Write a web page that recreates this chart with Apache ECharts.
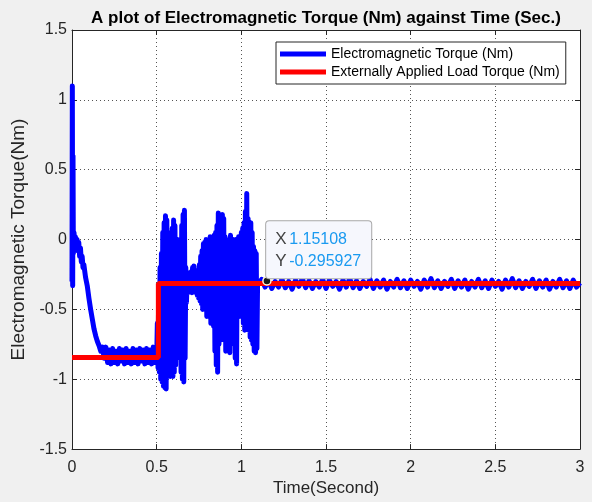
<!DOCTYPE html>
<html>
<head>
<meta charset="utf-8">
<script src="https://cdn.jsdelivr.net/npm/echarts@6/dist/echarts.min.js"></script>
<style>
html,body{margin:0;padding:0;background:#f0f0f0;}
#main{width:592px;height:502px;}
</style>
</head>
<body>
<div id="main"></div>
<script>
// electromagnetic torque [time, Nm]
var emStartup = [
    [0,-0.30],[0.002,1.10],[0.004,-0.33],[0.006,0.60],[0.008,-0.10],[0.012,0.05],[0.016,-0.05],
    [0.02,0.02],[0.025,-0.04],[0.03,0.00],[0.035,-0.08],[0.04,-0.02],[0.045,-0.12],[0.05,-0.06],
    [0.055,-0.16],[0.06,-0.12],[0.065,-0.20],[0.07,-0.18],[0.08,-0.27],[0.09,-0.33],[0.10,-0.42],
    [0.11,-0.50],[0.12,-0.57],[0.13,-0.64],[0.14,-0.69],[0.15,-0.73],[0.16,-0.76],[0.17,-0.80],
    [0.18,-0.77],[0.19,-0.85]
];
var emSettle = [
    [0.20,-0.77],[0.21,-0.88],[0.22,-0.79],[0.23,-0.89],[0.24,-0.78],[0.25,-0.88],[0.26,-0.80],
    [0.27,-0.89],[0.28,-0.78],[0.29,-0.87],[0.30,-0.79],[0.31,-0.89],[0.32,-0.78],[0.33,-0.88],
    [0.34,-0.80],[0.35,-0.89],[0.36,-0.78],[0.37,-0.88],[0.38,-0.79],[0.39,-0.89],[0.40,-0.78],
    [0.41,-0.87],[0.42,-0.79],[0.43,-0.89],[0.44,-0.78],[0.45,-0.88],[0.46,-0.79],[0.47,-0.89],
    [0.48,-0.77],[0.49,-0.88]
];
var emTransient = [
    [0.500,-0.86],[0.504,-0.60],[0.508,-0.92],[0.512,-0.35],[0.516,-0.95],[0.520,-0.20],
    [0.524,-1.00],[0.528,-0.10],[0.532,-1.02],[0.536,0.05],[0.540,-1.05],[0.544,0.12],
    [0.548,-1.06],[0.552,0.17],[0.556,-1.07],[0.560,0.14],[0.564,-0.95],[0.568,0.05],
    [0.572,-0.92],[0.576,-0.10],[0.580,-0.98],[0.584,0.00],[0.588,-0.97],[0.592,0.08],
    [0.596,-0.98],[0.600,0.14],[0.604,-0.95],[0.608,0.10],[0.612,-0.90],[0.616,-0.05],
    [0.620,-0.80],[0.624,0.00],[0.628,-0.75],[0.632,-0.05],[0.636,-0.85],[0.640,-0.10],
    [0.644,-0.95],[0.648,0.10],[0.652,-1.00],[0.656,0.18],[0.660,-1.02],[0.664,0.21],
    [0.668,-0.85],[0.672,-0.20],[0.676,-0.45],[0.680,-0.25],[0.684,-0.38],[0.688,-0.24],
    [0.692,-0.37],[0.696,-0.26],[0.700,-0.36],[0.704,-0.23],[0.708,-0.38],[0.712,-0.20],
    [0.716,-0.37],[0.720,-0.19],[0.724,-0.36],[0.728,-0.22],[0.732,-0.38],[0.736,-0.25],
    [0.740,-0.40],[0.744,-0.22],[0.748,-0.42],[0.752,-0.18],[0.756,-0.44],[0.760,-0.12],
    [0.764,-0.46],[0.768,-0.08],[0.772,-0.50],[0.776,-0.03],[0.780,-0.48],[0.784,-0.02],
    [0.788,-0.45],[0.792,0.00],[0.796,-0.55],[0.800,-0.02],[0.804,-0.50],[0.808,0.00],
    [0.812,-0.52],[0.816,0.02],[0.820,-0.60],[0.824,-0.01],[0.828,-0.55],[0.832,0.02],
    [0.836,-0.62],[0.840,0.03],[0.844,-0.80],[0.848,0.05],[0.852,-0.90],[0.856,0.10],
    [0.860,-0.95],[0.864,0.19],[0.868,-0.75],[0.872,0.12],[0.876,-0.72],[0.880,0.10],
    [0.884,-0.65],[0.888,0.18],[0.892,-0.70],[0.896,0.15],[0.900,-0.72],[0.904,0.02],
    [0.908,-0.80],[0.912,0.00],[0.916,-0.70],[0.920,-0.02],[0.924,-0.60],[0.928,-0.02],
    [0.932,-0.81],[0.936,0.03],[0.940,-0.62],[0.944,0.00],[0.948,-0.55],[0.952,0.00],
    [0.956,-0.75],[0.960,-0.03],[0.964,-0.85],[0.968,0.00],[0.972,-0.89],[0.976,0.00],
    [0.980,-0.50],[0.984,0.02],[0.988,-0.55],[0.992,0.02],[0.996,-0.52],[1.000,0.05],
    [1.004,-0.50],[1.008,0.08],[1.012,-0.60],[1.016,0.12],[1.020,-0.65],[1.024,0.20],
    [1.028,-0.55],[1.032,0.33],[1.036,-0.60],[1.040,0.15],[1.044,-0.65],[1.048,0.10],
    [1.052,-0.70],[1.056,0.12],[1.060,-0.72],[1.064,0.05],[1.068,-0.75],[1.072,-0.05],
    [1.076,-0.80],[1.080,-0.08],[1.084,-0.81],[1.088,-0.10],[1.092,-0.78],[1.096,-0.30]
];
var emSteady = [
    [1.10,-0.32],[1.12,-0.285],[1.14,-0.34],[1.16,-0.295],[1.18,-0.35],[1.20,-0.30],[1.22,-0.34],
    [1.24,-0.285],[1.26,-0.345],[1.28,-0.30],[1.30,-0.355],[1.32,-0.29],[1.34,-0.335],[1.36,-0.28],
    [1.38,-0.345],[1.40,-0.295],[1.42,-0.35],[1.44,-0.30],[1.46,-0.34],[1.48,-0.285],[1.50,-0.35],
    [1.52,-0.29],[1.54,-0.335],[1.56,-0.30],[1.58,-0.355],[1.60,-0.29],[1.62,-0.34],[1.64,-0.28],
    [1.66,-0.345],[1.68,-0.295],[1.70,-0.35],[1.72,-0.30],[1.74,-0.335],[1.76,-0.285],[1.78,-0.35],
    [1.80,-0.295],[1.82,-0.34],[1.84,-0.29],[1.86,-0.355],[1.88,-0.30],[1.90,-0.34],[1.92,-0.285],
    [1.94,-0.345],[1.96,-0.295],[1.98,-0.35],[2.00,-0.29],[2.02,-0.335],[2.04,-0.30],[2.06,-0.355],
    [2.08,-0.29],[2.10,-0.34],[2.12,-0.28],[2.14,-0.345],[2.16,-0.295],[2.18,-0.35],[2.20,-0.30],
    [2.22,-0.335],[2.24,-0.285],[2.26,-0.35],[2.28,-0.295],[2.30,-0.34],[2.32,-0.29],[2.34,-0.355],
    [2.36,-0.30],[2.38,-0.34],[2.40,-0.285],[2.42,-0.345],[2.44,-0.295],[2.46,-0.35],[2.48,-0.29],
    [2.50,-0.335],[2.52,-0.30],[2.54,-0.355],[2.56,-0.29],[2.58,-0.34],[2.60,-0.28],[2.62,-0.345],
    [2.64,-0.295],[2.66,-0.35],[2.68,-0.30],[2.70,-0.335],[2.72,-0.285],[2.74,-0.35],[2.76,-0.295],
    [2.78,-0.34],[2.80,-0.29],[2.82,-0.355],[2.84,-0.30],[2.86,-0.34],[2.88,-0.285],[2.90,-0.345],
    [2.92,-0.295],[2.94,-0.35],[2.96,-0.29],[2.98,-0.34],[3.00,-0.31]
];
var emTorque = emStartup.concat(emSettle, emTransient, emSteady);

// externally applied load torque (step at ~0.51 s)
var loadTorque = [[0,-0.845],[0.51,-0.845],[0.51,-0.315],[3,-0.315]];

// data tip
var dataTip = [[1.15108, -0.295927]];

var font = 'Liberation Sans, Arial, Helvetica, sans-serif';
var txtColor = '#262626';

myChart = echarts.init(document.getElementById('main'));
option = {
    animation: false,
    backgroundColor: '#f0f0f0',
    textStyle: {fontFamily: font},
    title: {
        text: 'A plot of Electromagnetic Torque (Nm) against Time (Sec.)',
        left: 321,
        textAlign: 'center',
        top: 5,
        textStyle: {
            fontFamily: font,
            fontSize: 17,
            fontWeight: 'bold',
            color: '#000'
        }
    },
    legend: {
        orient: 'vertical',
        left: 276,
        top: 42,
        data: ['Electromagnetic Torque (Nm)', 'Externally Applied Load Torque (Nm)'],
        icon: 'rect',
        itemWidth: 46,
        itemHeight: 5,
        itemGap: 4,
        padding: [5, 6, 5, 4],
        backgroundColor: '#fff',
        borderColor: '#262626',
        borderWidth: 1,
        borderRadius: 0,
        textStyle: {fontSize: 14, color: '#000'}
    },
    grid: {
        left: 72,
        right: 12,
        top: 30,
        bottom: 52,
        show: true,
        backgroundColor: '#fff',
        borderWidth: 0
    },
    xAxis: [
        {
            type: 'value',
            min: 0, max: 3, interval: 0.5,
            name: 'Time(Second)',
            nameLocation: 'middle',
            nameGap: 30,
            nameTextStyle: {fontSize: 17, color: txtColor},
            axisLine: {onZero: false, lineStyle: {color: txtColor}},
            axisTick: {inside: true, length: 5, lineStyle: {color: txtColor}},
            axisLabel: {fontSize: 16, color: txtColor, margin: 10},
            splitLine: {lineStyle: {color: '#555', type: [1, 3]}}
        },
        {
            type: 'value', position: 'top',
            min: 0, max: 3, interval: 0.5,
            axisLine: {show: true, onZero: false, lineStyle: {color: txtColor}},
            axisTick: {show: true, inside: true, length: 5, lineStyle: {color: txtColor}},
            axisLabel: {show: false},
            splitLine: {show: false}
        }
    ],
    yAxis: [
        {
            type: 'value',
            min: -1.5, max: 1.5, interval: 0.5,
            name: 'Electromagnetic Torque(Nm)',
            nameLocation: 'middle',
            nameGap: 31,
            nameTextStyle: {fontSize: 19, color: txtColor},
            axisLine: {show: true, onZero: false, lineStyle: {color: txtColor}},
            axisTick: {show: true, inside: true, length: 5, lineStyle: {color: txtColor}},
            axisLabel: {fontSize: 16, color: txtColor, margin: 5},
            splitLine: {lineStyle: {color: '#555', type: [1, 3]}}
        },
        {
            type: 'value', position: 'right',
            min: -1.5, max: 1.5, interval: 0.5,
            axisLine: {show: true, onZero: false, lineStyle: {color: txtColor}},
            axisTick: {show: true, inside: true, length: 5, lineStyle: {color: txtColor}},
            axisLabel: {show: false},
            splitLine: {show: false}
        }
    ],
    series: [
        {
            name: 'Electromagnetic Torque (Nm)',
            type: 'line',
            data: emTorque,
            showSymbol: false,
            color: '#0000ff',
            lineStyle: {width: 5, color: '#0000ff', join: 'round'}
        },
        {
            name: 'Externally Applied Load Torque (Nm)',
            type: 'line',
            data: loadTorque,
            showSymbol: false,
            color: '#ff0000',
            lineStyle: {width: 5, color: '#ff0000'}
        },
        {
            name: 'datatip',
            type: 'scatter',
            data: dataTip,
            symbolSize: 8,
            z: 5,
            itemStyle: {color: '#1a1a1a', borderColor: '#fff8dc', borderWidth: 1.5, opacity: 1},
            label: {
                show: true,
                position: [4, 2],
                align: 'left',
                verticalAlign: 'bottom',
                backgroundColor: '#f6f7fd',
                borderColor: '#a8a8a8',
                borderWidth: 1,
                borderRadius: 3,
                padding: [7, 10, 6, 9],
                formatter: function (p) {
                    return '{k|X}{v|' + p.value[0] + '}\n{k|Y}{v|' + p.value[1] + '}';
                },
                rich: {
                    k: {fontSize: 17, color: '#444', width: 14, lineHeight: 22, fontFamily: font},
                    v: {fontSize: 16, color: '#1a9af0', lineHeight: 22, fontFamily: font}
                }
            }
        }
    ]
};
myChart.setOption(option);
</script>
</body>
</html>
